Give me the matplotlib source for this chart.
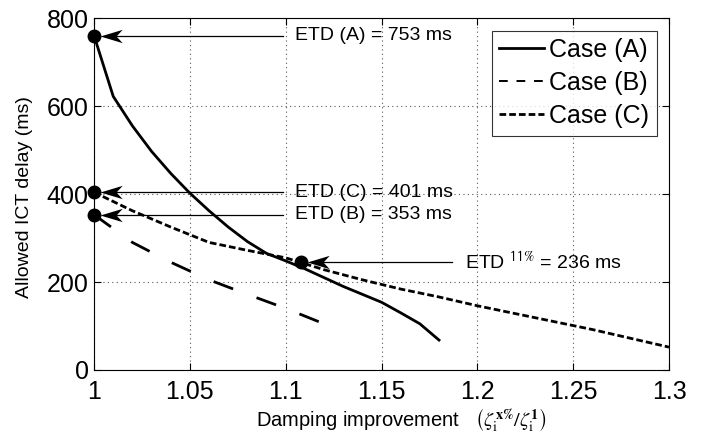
import matplotlib
matplotlib.use("Agg")
import matplotlib.pyplot as plt
from matplotlib.path import Path
from matplotlib.lines import Line2D

plt.rcParams['font.family'] = ['Liberation Sans', 'DejaVu Sans']
plt.rcParams['mathtext.fontset'] = 'stix'

xa = [1.00, 1.01, 1.02, 1.03, 1.04, 1.05, 1.06, 1.07, 1.08, 1.09, 1.10, 1.11, 1.12, 1.13, 1.14, 1.15, 1.16, 1.17, 1.18]
ya = [760, 622, 555, 497, 447, 402, 362, 325, 292, 265, 248, 230, 210, 190, 172, 154, 130, 105, 68]
xb = [1.00, 1.02, 1.04, 1.06, 1.08, 1.10, 1.12]
yb = [353, 290, 245, 205, 172, 140, 105]
xc = [1.00, 1.02, 1.04, 1.06, 1.08, 1.10, 1.12, 1.14, 1.16, 1.18, 1.20, 1.22, 1.24, 1.26, 1.28, 1.30]
yc = [404, 362, 325, 290, 272, 255, 228, 205, 184, 166, 146, 128, 110, 92, 72, 52]
labels = ['Case (A)', 'Case (B)', 'Case (C)']

etd_x = [1.0, 1.0, 1.0, 1.108]
etd_y = [760, 404, 353, 245]
etd_text = ['ETD (A) = 753 ms', 'ETD (C) = 401 ms', 'ETD (B) = 353 ms',
            r'ETD $^{\mathsf{11\%}}$ = 236 ms']
etd_text_x = [1.0985, 1.0985, 1.0985, 1.187]

fig = plt.figure(figsize=(7.02, 4.41), dpi=100)
ax = fig.add_axes([0.134, 0.161, 0.819, 0.798])

la, = ax.plot(xa, ya, color='black', lw=2.0, ls='-')
lb, = ax.plot(xb, yb, color='black', lw=2.0, ls=(0, (7.5, 9)))
lc, = ax.plot(xc, yc, color='black', lw=2.0, ls=(0, (2.4, 1.1)))

# barbed arrowhead marker with tip at origin, pointing left
head = Path([(0, 0), (1, 0.3), (0.72, 0), (1, -0.3), (0, 0)],
            [Path.MOVETO, Path.LINETO, Path.LINETO, Path.LINETO, Path.CLOSEPOLY])
tip_off = 0.0032
for px, py, t, tx in zip(etd_x, etd_y, etd_text, etd_text_x):
    ax.plot([px + tip_off + 0.005, tx], [py, py], color='black', lw=0.9, zorder=4)
    ax.plot(px + tip_off, py, marker=head, color='black', ms=32, mew=0,
            clip_on=False, zorder=6)
    ax.text(tx + 0.0065, py, t, fontsize=14, va='center', ha='left')
    ax.plot(px, py, 'o', color='black', ms=9, clip_on=False, zorder=5)

ax.set_xlim(1.0, 1.3)
ax.set_ylim(0, 800)
ax.set_xticks([1.0, 1.05, 1.1, 1.15, 1.2, 1.25, 1.3])
ax.set_xticklabels(['1', '1.05', '1.1', '1.15', '1.2', '1.25', '1.3'])
ax.set_yticks([0, 200, 400, 600, 800])
ax.tick_params(labelsize=18, direction='in', top=True, right=True, length=5, width=0.8)
ax.tick_params(axis='x', pad=7)
ax.tick_params(axis='y', pad=4)
ax.grid(True, ls=(0, (1, 3)), color='#555555', lw=0.8)
for s in ax.spines.values():
    s.set_linewidth(0.8)
ax.set_ylabel('Allowed ICT delay (ms)', fontsize=14)
ax.yaxis.set_label_coords(-0.106, 0.49)
ax.set_xlabel(r'Damping improvement   $\left(\zeta_{\mathrm{i}}^{\mathbf{x\%}}/\zeta_{\mathrm{i}}^{\mathbf{1}}\right)$',
              fontsize=14.5)
ax.xaxis.set_label_coords(0.534, -0.103)

hb = Line2D([], [], color='black', lw=1.4, ls=(0, (4.5, 4.5)))
leg = ax.legend([la, hb, lc], labels, loc='upper right', fontsize=18, frameon=True,
                fancybox=False, edgecolor='black', handlelength=1.8, handletextpad=0.2,
                borderaxespad=0.5, labelspacing=0.36, borderpad=0.3)
leg.get_frame().set_linewidth(0.8)

fig.savefig('out.png', dpi=100)
